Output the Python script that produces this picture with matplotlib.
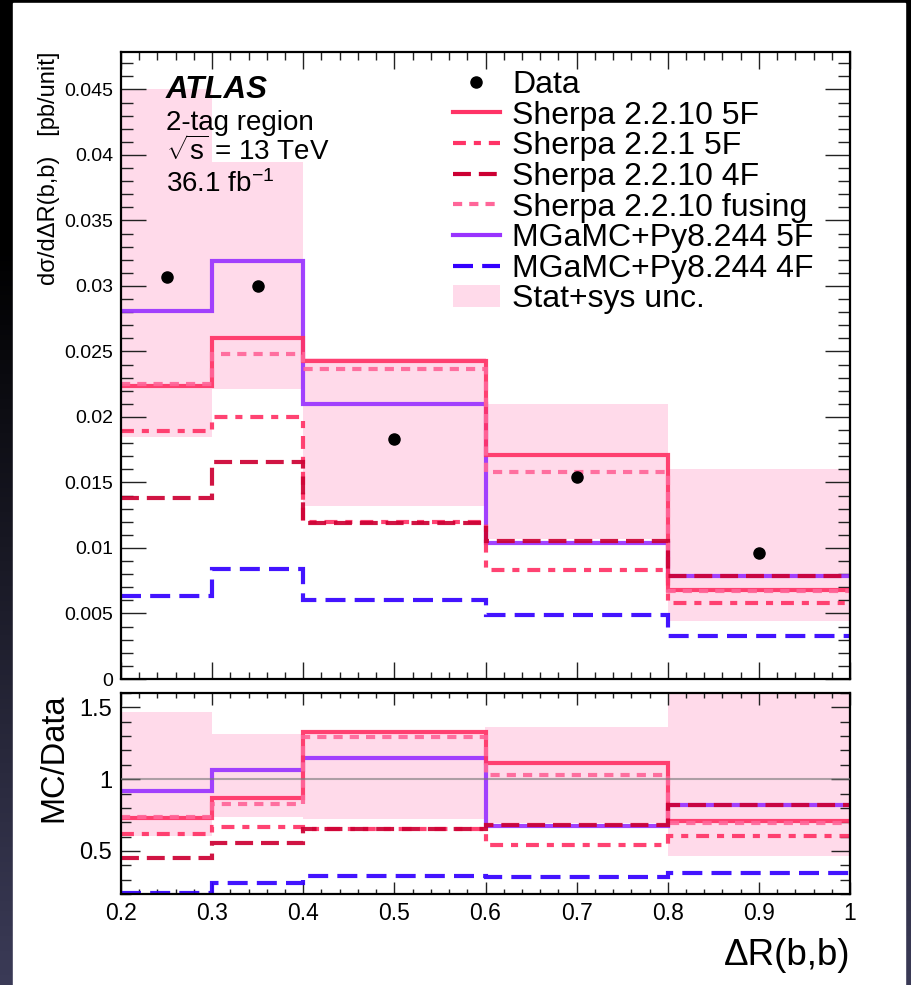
import matplotlib
matplotlib.use('Agg')
import matplotlib.pyplot as plt
from matplotlib.ticker import MultipleLocator, FuncFormatter
from matplotlib.patches import Rectangle, Patch
from matplotlib.lines import Line2D
import numpy as np

plt.rcParams['font.family'] = ['Liberation Sans', 'DejaVu Sans']
plt.rcParams['mathtext.fontset'] = 'custom'
plt.rcParams['mathtext.rm'] = 'Liberation Sans'
plt.rcParams['mathtext.it'] = 'Liberation Sans:italic'

# bins in dR(b,b)
edges = [0.2, 0.3, 0.4, 0.6, 0.8, 1.0]

# measured cross section [pb/unit] and stat+sys band
data = [0.0307, 0.0300, 0.0183, 0.0154, 0.0096]
band_lo = [0.0185, 0.0221, 0.0132, 0.0107, 0.00445]
band_hi = [0.0450, 0.0395, 0.0245, 0.0210, 0.0160]

# predictions
sherpa_5f = [0.0224, 0.0260, 0.0243, 0.0171, 0.0068]
sherpa221_5f = [0.0189, 0.0200, 0.0120, 0.0083, 0.0058]
sherpa_4f = [0.0138, 0.0166, 0.0119, 0.0105, 0.0079]
sherpa_fusing = [0.0225, 0.0248, 0.0237, 0.0158, 0.0067]
mg_5f = [0.0281, 0.0319, 0.0210, 0.0104, 0.0079]
mg_4f = [0.0063, 0.0084, 0.0060, 0.0049, 0.0033]

names = ['Sherpa 2.2.10 5F', 'Sherpa 2.2.1 5F', 'Sherpa 2.2.10 4F',
         'Sherpa 2.2.10 fusing', 'MGaMC+Py8.244 5F', 'MGaMC+Py8.244 4F']
preds = [sherpa_5f, sherpa221_5f, sherpa_4f, sherpa_fusing, mg_5f, mg_4f]
colors = ['#ff3366', '#ff3366', '#cc0033', '#ff6699', '#9933ff', '#3300ff']
styles = ['-', (0, (3.1, 1.9, 1.7, 1.9)), (0, (4.3, 1.9)), (0, (2.2, 1.7)),
          '-', (0, (4.8, 2.2))]
draw_order = [4, 0, 3, 1, 2, 5]
band_col = '#ffdaea'
lw = 3.0

W, H = 911, 985
fig = plt.figure(figsize=(W / 100, H / 100), dpi=100)

# dark slide background with the white page on top
bg = fig.add_axes([0, 0, 1, 1], zorder=-10)
t = np.clip((np.linspace(0, 1, 200) - 0.25) / 0.75, 0, 1)
grad = np.zeros((200, 1, 3))
grad[:, 0, 0] = t * 0.23
grad[:, 0, 1] = t * 0.23
grad[:, 0, 2] = t * 0.34
bg.imshow(grad, aspect='auto', extent=[0, 1, 0, 1])
bg.axis('off')
fig.add_artist(Rectangle((13 / W, 0), (905 - 13) / W, 1 - 3 / H,
                         transform=fig.transFigure, color='white', zorder=-5))


def px(x, y):
    return x / W, 1 - y / H


ax = fig.add_axes([121 / W, 1 - 679 / H, (850 - 121) / W, (679 - 52) / H])
rax = fig.add_axes([121 / W, 1 - 894 / H, (850 - 121) / W, (894 - 693) / H])

e = np.array(edges)
centers = 0.5 * (e[1:] + e[:-1])
widths = np.diff(e)
d = np.array(data)

# main panel
ax.bar(centers, np.array(band_hi) - np.array(band_lo), bottom=band_lo,
       width=widths, color=band_col, linewidth=0, zorder=1)
for i in draw_order:
    ax.stairs(preds[i], edges, baseline=None, color=colors[i],
              linestyle=styles[i], linewidth=lw, alpha=0.92, zorder=2)
ax.plot(centers, data, 'o', color='black', markersize=8, zorder=5)

ax.set_xlim(0.2, 1.0)
ax.set_ylim(0, 0.04786)

# ratio panel
rax.axhline(1.0, color='#777777', lw=1.5, alpha=0.6, zorder=3)
rax.bar(centers, (np.array(band_hi) - np.array(band_lo)) / d,
        bottom=np.array(band_lo) / d, width=widths, color=band_col,
        linewidth=0, zorder=1)
for i in draw_order:
    rax.stairs(np.array(preds[i]) / d, edges, baseline=None, color=colors[i],
               linestyle=styles[i], linewidth=lw, alpha=0.92, zorder=2)
rax.set_xlim(0.2, 1.0)
rax.set_ylim(0.2, 1.6)

fmt = FuncFormatter(lambda v, p: '%g' % round(v, 4))
for a in (ax, rax):
    for s in a.spines.values():
        s.set_linewidth(1.6)
    a.tick_params(which='both', direction='in', top=True, right=True,
                  width=1.0, color='#222222')
    a.xaxis.set_major_locator(MultipleLocator(0.1))
    a.xaxis.set_minor_locator(MultipleLocator(0.02))
    a.xaxis.set_major_formatter(fmt)
    a.yaxis.set_major_formatter(fmt)

ax.yaxis.set_major_locator(MultipleLocator(0.005))
ax.yaxis.set_minor_locator(MultipleLocator(0.001))
ax.tick_params(axis='y', which='major', length=18, labelsize=14, pad=5.5)
ax.tick_params(axis='y', which='minor', length=8.6)
ax.tick_params(axis='x', which='major', length=12, labelbottom=False)
ax.tick_params(axis='x', which='minor', length=5.4)

rax.yaxis.set_major_locator(MultipleLocator(0.5))
rax.yaxis.set_minor_locator(MultipleLocator(0.1))
rax.tick_params(axis='y', which='major', length=13.7, labelsize=17, pad=6.5)
rax.tick_params(axis='y', which='minor', length=7.2)
rax.tick_params(axis='x', which='major', length=8.6, labelsize=16.5, pad=5.5)
rax.tick_params(axis='x', which='minor', length=3.6)

# labels
fig.text(*px(49, 52), 'dσ/dΔR(b,b)   [pb/unit]', rotation=90, ha='center',
         va='top', fontsize=17)
fig.text(*px(54, 693), 'MC/Data', rotation=90, ha='center', va='top',
         fontsize=23.5)
fig.text(*px(850, 965), 'ΔR(b,b)', ha='right', va='baseline', fontsize=26.5)

fig.text(*px(166, 97.5), 'ATLAS', fontsize=22.5, fontweight='bold',
         fontstyle='italic', va='baseline')
fig.text(*px(166, 130), '2-tag region', fontsize=20, va='baseline')
fig.text(*px(166, 160), r'$\sqrt{\mathrm{s}}$ = 13 TeV', fontsize=20,
         va='baseline')
fig.text(*px(166, 192), r'36.1 fb$^{\mathrm{-1}}$', fontsize=20,
         va='baseline')

# legend
handles = [Line2D([], [], marker='o', color='black', linestyle='none',
                  markersize=8)]
for i in range(len(preds)):
    handles.append(Line2D([], [], color=colors[i], linestyle=styles[i],
                          linewidth=lw))
handles.append(Patch(facecolor=band_col, edgecolor='none'))
labels = ['Data'] + names + ['Stat+sys unc.']
fig.legend(handles, labels, loc='upper left', bbox_to_anchor=px(453, 70),
           frameon=False, fontsize=23, handlelength=1.47,
           handletextpad=0.38, labelspacing=0.02, borderpad=0,
           borderaxespad=0)

fig.savefig('out.png', dpi=100)
